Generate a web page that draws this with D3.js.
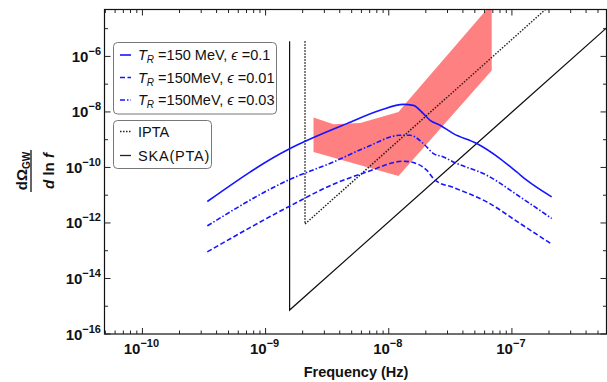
<!DOCTYPE html>
<html>
<head>
<meta charset="utf-8">
<script src="https://d3js.org/d3.v7.min.js"></script>
<style>
body { margin: 0; background: #fff; }
text { font-family: "Liberation Sans", Arial, sans-serif; }
</style>
</head>
<body>
<div id="chart"></div>
<script>
// all values are log10 (frequency in Hz, dOmega/dlnf)
var eps01 = [[-9.473,-11.227],[-8.805,-9.327],[-8.611,-8.924],[-8.340,-8.421],[-8.070,-7.942],[-7.881,-7.727],[-7.800,-7.763],[-7.719,-8.061],[-7.664,-8.302],[-7.583,-8.482],[-7.475,-8.781],[-7.285,-9.140],[-7.097,-9.680],[-6.961,-10.162],[-6.880,-10.460],[-6.677,-11.061]]
var eps003 = [[-9.473,-12.104],[-8.805,-10.435],[-8.449,-9.802],[-8.178,-9.263],[-7.908,-8.842],[-7.826,-8.842],[-7.719,-9.140],[-7.637,-9.500],[-7.556,-9.622],[-7.475,-9.802],[-7.204,-10.281],[-6.934,-11.061],[-6.677,-11.838]]
var eps001 = [[-9.473,-13.040],[-8.805,-11.396],[-8.449,-10.604],[-8.178,-10.162],[-7.881,-9.777],[-7.800,-9.824],[-7.691,-10.101],[-7.624,-10.460],[-7.475,-10.723],[-7.204,-11.241],[-6.934,-12.018],[-6.677,-12.763]]
var ska = [[-8.805,-5.45],[-8.805,-15.137],[-6.20,-4.85]]
var ipta = [[-8.68,-5.45],[-8.68,-12.04],[-6.70,-4.20]]
var nanogravBand = [[-8.611,-8.205],[-8.449,-8.446],[-8.232,-8.399],[-7.921,-8.004],[-7.853,-7.644],[-7.164,-4.10],[-7.164,-6.504],[-7.921,-10.306],[-8.611,-9.442]]

var xMajors = [-10, -9, -8, -7]
var yMajors = [-16, -15, -14, -13, -12, -11, -10, -9, -8, -7, -6, -5]
var yLabeled = [-16, -14, -12, -10, -8, -6]

var legendCurves = [
	{ eps: "0.1", gap: " ", dash: null },
	{ eps: "0.01", gap: "", dash: "5,2.5" },
	{ eps: "0.03", gap: "", dash: "5,2,1.5,2" }
]
var legendRefs = [
	{ name: "IPTA", dash: "1.5,1.5" },
	{ name: "SKA(PTA)", dash: null }
]

var width = 607, height = 382
var plotLeft = 104.5, plotRight = 606.5, plotTop = 9.5, plotBottom = 334

var svg = d3.select("#chart").append("svg")
	.attr("width", width)
	.attr("height", height)

var x = d3.scaleLog().domain([Math.pow(10, -10.308), Math.pow(10, -6.232)]).range([plotLeft, plotRight])
var y = d3.scaleLog().domain([1e-16, Math.pow(10, -4.31)]).range([plotBottom, plotTop])

function px(d) { return x(Math.pow(10, d[0])) }
function py(d) { return y(Math.pow(10, d[1])) }

svg.append("clipPath").attr("id", "plotclip")
	.append("rect").attr("x", plotLeft).attr("y", plotTop)
	.attr("width", plotRight - plotLeft).attr("height", plotBottom - plotTop)

var plot = svg.append("g").attr("clip-path", "url(#plotclip)")

// red region
plot.append("path")
	.attr("d", d3.line().x(px).y(py)(nanogravBand) + "Z")
	.style("fill", "#ff8080")
	.style("stroke", "none")

// sensitivity curves
plot.append("path")
	.attr("d", d3.line().x(px).y(py)(ipta))
	.style("fill", "none").style("stroke", "#222").style("stroke-width", 1.5)
	.style("stroke-dasharray", "1.5,1.5")
plot.append("path")
	.attr("d", d3.line().x(px).y(py)(ska))
	.style("fill", "none").style("stroke", "#111").style("stroke-width", 1.2)

// model curves
var curve = d3.line().x(px).y(py).curve(d3.curveMonotoneX)
var series = [[eps01, null], [eps003, "5,2,1.5,2"], [eps001, "5,2.5"]]
series.forEach(function(s) {
	plot.append("path")
		.attr("d", curve(s[0]))
		.style("fill", "none")
		.style("stroke", "#1515ff")
		.style("stroke-width", 1.6)
		.style("stroke-dasharray", s[1])
})

// frame
svg.append("rect")
	.attr("x", plotLeft).attr("y", plotTop)
	.attr("width", plotRight - plotLeft).attr("height", plotBottom - plotTop)
	.style("fill", "none").style("stroke", "#111").style("stroke-width", 1.2)

// x ticks (inward, top and bottom)
var xTicks = []
for (var e = -11; e <= -7; e++) {
	for (var m = 1; m <= 9; m++) {
		var v = m * Math.pow(10, e)
		if (x(v) >= plotLeft && x(v) <= plotRight) xTicks.push({ v: v, major: m == 1 })
	}
}
xTicks.forEach(function(t) {
	var len = t.major ? 6 : 3.5
	svg.append("line").attr("x1", x(t.v)).attr("x2", x(t.v))
		.attr("y1", plotBottom).attr("y2", plotBottom - len)
		.style("stroke", "#222").style("stroke-width", 1)
	svg.append("line").attr("x1", x(t.v)).attr("x2", x(t.v))
		.attr("y1", plotTop).attr("y2", plotTop + len)
		.style("stroke", "#222").style("stroke-width", 1)
})

// y ticks
yMajors.forEach(function(e) {
	var len = yLabeled.indexOf(e) >= 0 ? 6 : 3.5
	var yy = y(Math.pow(10, e))
	svg.append("line").attr("x1", plotLeft).attr("x2", plotLeft + len)
		.attr("y1", yy).attr("y2", yy)
		.style("stroke", "#222").style("stroke-width", 1)
	svg.append("line").attr("x1", plotRight).attr("x2", plotRight - len)
		.attr("y1", yy).attr("y2", yy)
		.style("stroke", "#222").style("stroke-width", 1)
})

// tick labels
function powLabel(g, e) {
	var t = g.append("text").style("font-weight", "bold").style("fill", "#111")
	t.append("tspan").style("font-size", "15px").text("10")
	t.append("tspan").style("font-size", "11px").attr("dy", -7).text("\u2212" + Math.abs(e))
	return t
}
xMajors.forEach(function(e) {
	var t = powLabel(svg, e)
	t.attr("x", x(Math.pow(10, e)) - 1).attr("y", 354).attr("text-anchor", "middle")
})
yLabeled.forEach(function(e) {
	var t = powLabel(svg, e)
	t.attr("x", 101).attr("y", y(Math.pow(10, e)) + 5.5).attr("text-anchor", "end")
})

// axis titles
svg.append("text")
	.attr("x", 356).attr("y", 377)
	.attr("text-anchor", "middle")
	.style("font-size", "14.5px").style("font-weight", "bold").style("fill", "#111")
	.text("Frequency (Hz)")

var yt = svg.append("g").attr("transform", "translate(0,171)")
var num = yt.append("text").attr("transform", "translate(27,0) rotate(-90)")
	.attr("text-anchor", "middle").style("font-weight", "bold").style("font-size", "15px").style("fill", "#111")
num.append("tspan").text("d\u03A9")
num.append("tspan").style("font-size", "10px").attr("dy", 3).text("GW")
yt.append("line").attr("x1", 31).attr("x2", 31).attr("y1", -21).attr("y2", 21)
	.style("stroke", "#111").style("stroke-width", 1.3)
var den = yt.append("text").attr("transform", "translate(54,0) rotate(-90)")
	.attr("text-anchor", "middle").style("font-weight", "bold").style("font-size", "15px").style("fill", "#111")
den.append("tspan").style("font-style", "italic").text("d")
den.append("tspan").text(" ln ")
den.append("tspan").style("font-style", "italic").text("f")

// legend 1
var lg1 = svg.append("g")
lg1.append("rect").attr("x", 113.5).attr("y", 42.5).attr("width", 163).attr("height", 71.5)
	.attr("rx", 4).style("fill", "#fff").style("stroke", "#777").style("stroke-width", 1)
legendCurves.forEach(function(d, i) {
	var yy = 55 + i * 22.5
	lg1.append("line").attr("x1", 120).attr("x2", 131).attr("y1", yy).attr("y2", yy)
		.style("stroke", "#1515ff").style("stroke-width", 1.6).style("stroke-dasharray", d.dash)
	var t = lg1.append("text").attr("x", 138).attr("y", yy + 5).style("font-size", "14.5px").style("fill", "#111")
	t.append("tspan").style("font-style", "italic").text("T")
	t.append("tspan").style("font-style", "italic").style("font-size", "10px").attr("dy", 3).text("R")
	t.append("tspan").attr("dy", -3).text(" =150" + d.gap + "MeV, ")
	t.append("tspan").style("font-style", "italic").text("\u03F5")
	t.append("tspan").text(" =" + d.eps)
})

// legend 2
var lg2 = svg.append("g")
lg2.append("rect").attr("x", 113.5).attr("y", 120.5).attr("width", 98).attr("height", 48)
	.attr("rx", 4).style("fill", "#fff").style("stroke", "#777").style("stroke-width", 1)
legendRefs.forEach(function(d, i) {
	var yy = 131.5 + i * 24
	lg2.append("line").attr("x1", 120).attr("x2", 131).attr("y1", yy).attr("y2", yy)
		.style("stroke", "#222").style("stroke-width", 1.3).style("stroke-dasharray", d.dash)
	lg2.append("text").attr("x", 138).attr("y", yy + 5).style("font-size", "14.5px").style("fill", "#111")
		.style("letter-spacing", d.name == "SKA(PTA)" ? "0.8px" : null)
		.text(d.name)
})
</script>
</body>
</html>
